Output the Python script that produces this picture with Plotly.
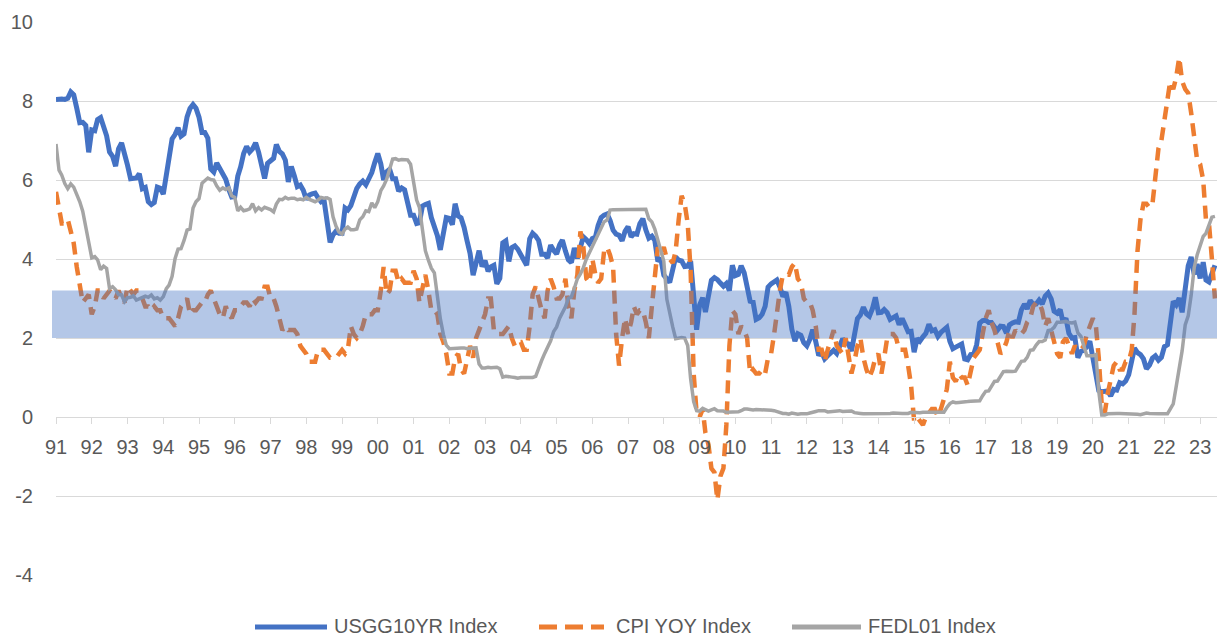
import pandas as pd
import plotly.graph_objects as go

# ---------------- data (monthly, Jan 1991 .. Jun 2023) ----------------
start_month = "1991-01-01"

usgg10yr = [
    8.04, 8.06, 8.05, 8.04, 8.07, 8.23, 8.16, 7.82, 7.45, 7.46, 7.38, 6.70,
    7.27, 7.25, 7.53, 7.58, 7.32, 7.12, 6.71, 6.60, 6.35, 6.79, 6.94, 6.69,
    6.37, 6.03, 6.03, 6.05, 6.16, 5.78, 5.81, 5.45, 5.38, 5.43, 5.82, 5.79,
    5.64, 6.13, 6.74, 7.04, 7.15, 7.32, 7.11, 7.17, 7.60, 7.81, 7.91, 7.82,
    7.59, 7.20, 7.20, 7.06, 6.28, 6.20, 6.43, 6.28, 6.17, 6.02, 5.76, 5.57,
    5.58, 6.10, 6.33, 6.67, 6.85, 6.71, 6.79, 6.94, 6.70, 6.34, 6.04, 6.42,
    6.49, 6.55, 6.90, 6.72, 6.66, 6.50, 5.95, 6.34, 6.10, 5.83, 5.87, 5.74,
    5.51, 5.62, 5.65, 5.67, 5.55, 5.45, 5.49, 4.98, 4.42, 4.61, 4.71, 4.65,
    4.65, 5.29, 5.24, 5.35, 5.62, 5.79, 5.90, 5.97, 5.88, 6.02, 6.19, 6.44,
    6.67, 6.41, 6.00, 6.21, 6.27, 6.03, 6.03, 5.72, 5.80, 5.75, 5.47, 5.11,
    5.11, 4.90, 4.92, 5.34, 5.38, 5.41, 5.05, 4.83, 4.59, 4.23, 4.75, 5.05,
    5.03, 4.87, 5.40, 5.09, 5.04, 4.80, 4.46, 4.14, 3.59, 3.89, 4.21, 3.81,
    3.96, 3.69, 3.80, 3.84, 3.37, 3.51, 4.41, 4.46, 3.94, 4.29, 4.33, 4.25,
    4.13, 3.97, 3.84, 4.51, 4.65, 4.58, 4.47, 4.12, 4.12, 4.03, 4.35, 4.22,
    4.13, 4.36, 4.48, 4.20, 3.98, 3.91, 4.28, 4.02, 4.32, 4.56, 4.49, 4.39,
    4.52, 4.55, 4.85, 5.05, 5.11, 5.14, 4.98, 4.73, 4.63, 4.60, 4.46, 4.70,
    4.82, 4.56, 4.64, 4.63, 4.89, 5.02, 4.74, 4.53, 4.58, 4.47, 3.94, 4.02,
    3.59, 3.51, 3.41, 3.73, 4.05, 3.97, 3.95, 3.81, 3.82, 3.95, 2.92, 2.21,
    2.84, 3.02, 2.66, 3.12, 3.46, 3.53, 3.48, 3.39, 3.31, 3.38, 3.20, 3.84,
    3.58, 3.61, 3.83, 3.65, 3.29, 2.93, 2.91, 2.47, 2.51, 2.60, 2.80, 3.29,
    3.37, 3.42, 3.47, 3.29, 3.05, 3.16, 2.80, 2.22, 1.92, 2.11, 2.07, 1.88,
    1.80, 1.97, 2.21, 1.91, 1.56, 1.64, 1.47, 1.55, 1.63, 1.69, 1.61, 1.76,
    1.98, 1.88, 1.85, 1.67, 2.13, 2.49, 2.58, 2.78, 2.61, 2.55, 2.74, 3.03,
    2.64, 2.65, 2.72, 2.64, 2.47, 2.53, 2.56, 2.34, 2.49, 2.33, 2.16, 2.17,
    1.64, 1.99, 1.92, 2.03, 2.12, 2.35, 2.18, 2.21, 2.04, 2.14, 2.21, 2.27,
    1.92, 1.73, 1.77, 1.83, 1.85, 1.47, 1.45, 1.58, 1.59, 1.83, 2.38, 2.44,
    2.45, 2.39, 2.39, 2.28, 2.20, 2.30, 2.29, 2.12, 2.33, 2.38, 2.41, 2.40,
    2.71, 2.86, 2.74, 2.95, 2.86, 2.86, 2.96, 2.86, 3.06, 3.14, 2.99, 2.68,
    2.63, 2.72, 2.41, 2.50, 2.12, 2.00, 2.01, 1.50, 1.66, 1.69, 1.78, 1.92,
    1.51, 1.15, 0.67, 0.64, 0.65, 0.66, 0.53, 0.70, 0.68, 0.87, 0.84, 0.91,
    1.07, 1.40, 1.74, 1.63, 1.58, 1.47, 1.22, 1.31, 1.49, 1.55, 1.44, 1.51,
    1.78, 1.83, 2.34, 2.93, 2.84, 3.01, 2.65, 3.19, 3.83, 4.05, 3.61, 3.87,
    3.51, 3.92, 3.47, 3.42, 3.64, 3.84,
]

cpi_yoy = [
    5.7, 5.3, 4.9, 4.9, 5.0, 4.7, 4.4, 3.8, 3.4, 2.9, 3.0, 3.1,
    2.6, 2.8, 3.2, 3.2, 3.0, 3.1, 3.2, 3.1, 3.0, 3.2, 3.0, 2.9,
    3.3, 3.2, 3.1, 3.2, 3.2, 3.0, 2.8, 2.8, 2.7, 2.8, 2.7, 2.7,
    2.5, 2.5, 2.5, 2.4, 2.3, 2.5, 2.8, 2.9, 3.0, 2.6, 2.7, 2.7,
    2.8, 2.9, 2.9, 3.1, 3.2, 3.0, 2.8, 2.6, 2.5, 2.8, 2.6, 2.5,
    2.7, 2.7, 2.8, 2.9, 2.9, 2.8, 3.0, 2.9, 3.0, 3.0, 3.3, 3.3,
    3.0, 3.0, 2.8, 2.5, 2.2, 2.3, 2.2, 2.2, 2.2, 2.1, 1.8, 1.7,
    1.6, 1.4, 1.4, 1.4, 1.7, 1.7, 1.7, 1.6, 1.5, 1.5, 1.5, 1.6,
    1.7, 1.6, 1.7, 2.3, 2.1, 2.0, 2.1, 2.3, 2.6, 2.6, 2.6, 2.7,
    2.7, 3.2, 3.8, 3.1, 3.2, 3.7, 3.7, 3.4, 3.5, 3.4, 3.4, 3.4,
    3.7, 3.5, 2.9, 3.3, 3.6, 3.2, 2.7, 2.7, 2.6, 2.1, 1.9, 1.6,
    1.1, 1.1, 1.5, 1.6, 1.2, 1.1, 1.5, 1.8, 1.5, 2.0, 2.2, 2.4,
    2.6, 3.0, 3.0, 2.2, 2.1, 2.1, 2.1, 2.2, 2.3, 2.0, 1.8, 1.9,
    1.9, 1.7, 1.7, 2.3, 3.1, 3.3, 3.0, 2.7, 2.5, 3.2, 3.5, 3.3,
    3.0, 3.0, 3.1, 3.5, 2.8, 2.5, 3.2, 3.6, 4.7, 4.3, 3.5, 3.4,
    4.0, 3.6, 3.4, 3.5, 4.2, 4.3, 4.1, 3.8, 2.1, 1.3, 2.0, 2.5,
    2.1, 2.4, 2.8, 2.6, 2.7, 2.7, 2.4, 2.0, 2.8, 3.5, 4.3, 4.1,
    4.3, 4.0, 4.0, 3.9, 4.2, 5.0, 5.6, 5.4, 4.9, 3.7, 1.1, 0.1,
    0.0, 0.2, -0.4, -0.7, -1.3, -1.4, -2.1, -1.5, -1.3, -0.2, 1.8, 2.7,
    2.6, 2.1, 2.3, 2.2, 2.0, 1.1, 1.2, 1.1, 1.1, 1.2, 1.1, 1.5,
    1.6, 2.1, 2.7, 3.2, 3.6, 3.6, 3.6, 3.8, 3.9, 3.5, 3.4, 3.0,
    2.9, 2.9, 2.7, 2.3, 1.7, 1.7, 1.4, 1.7, 2.0, 2.2, 1.8, 1.7,
    1.6, 2.0, 1.5, 1.1, 1.4, 1.8, 2.0, 1.5, 1.2, 1.0, 1.2, 1.5,
    1.6, 1.1, 1.5, 2.0, 2.1, 2.1, 2.0, 1.7, 1.7, 1.7, 1.3, 0.8,
    -0.1, 0.0, -0.1, -0.2, 0.0, 0.1, 0.2, 0.2, 0.0, 0.2, 0.5, 0.7,
    1.4, 1.0, 0.9, 1.1, 1.0, 1.0, 0.8, 1.1, 1.5, 1.6, 1.7, 2.1,
    2.5, 2.7, 2.4, 2.2, 1.9, 1.6, 1.7, 1.9, 2.2, 2.0, 2.2, 2.1,
    2.1, 2.2, 2.4, 2.5, 2.8, 2.9, 2.9, 2.7, 2.3, 2.5, 2.2, 1.9,
    1.6, 1.5, 1.9, 2.0, 1.8, 1.6, 1.8, 1.7, 1.7, 1.8, 2.1, 2.3,
    2.5, 2.3, 1.5, 0.3, 0.1, 0.6, 1.0, 1.3, 1.4, 1.2, 1.2, 1.4,
    1.4, 1.7, 2.6, 4.2, 5.0, 5.4, 5.4, 5.3, 5.4, 6.2, 6.8, 7.0,
    7.5, 7.9, 8.5, 8.3, 8.6, 9.1, 8.5, 8.3, 8.2, 7.7, 7.1, 6.5,
    6.4, 6.0, 5.0, 4.9, 4.0, 3.0,
]

fedl01 = [
    6.91, 6.25, 6.12, 5.91, 5.78, 5.90, 5.82, 5.66, 5.45, 5.21, 4.81, 4.43,
    4.03, 4.06, 3.98, 3.73, 3.82, 3.76, 3.25, 3.30, 3.22, 3.10, 3.09, 2.92,
    3.02, 3.03, 3.07, 2.96, 3.00, 3.04, 3.06, 3.03, 3.09, 2.99, 3.02, 2.96,
    3.05, 3.25, 3.34, 3.56, 4.01, 4.25, 4.26, 4.47, 4.73, 4.76, 5.29, 5.45,
    5.53, 5.92, 5.98, 6.05, 6.01, 6.00, 5.85, 5.74, 5.80, 5.76, 5.80, 5.60,
    5.56, 5.22, 5.31, 5.22, 5.24, 5.27, 5.40, 5.22, 5.30, 5.24, 5.31, 5.29,
    5.25, 5.19, 5.39, 5.51, 5.50, 5.56, 5.52, 5.54, 5.54, 5.50, 5.52, 5.50,
    5.56, 5.51, 5.49, 5.45, 5.49, 5.56, 5.54, 5.55, 5.51, 5.07, 4.83, 4.68,
    4.63, 4.76, 4.81, 4.74, 4.74, 4.76, 4.99, 5.07, 5.22, 5.20, 5.42, 5.30,
    5.45, 5.73, 5.85, 6.02, 6.27, 6.53, 6.54, 6.50, 6.52, 6.51, 6.51, 6.40,
    5.98, 5.49, 5.31, 4.80, 4.21, 3.97, 3.77, 3.65, 3.07, 2.49, 2.09, 1.82,
    1.73, 1.74, 1.73, 1.75, 1.75, 1.75, 1.73, 1.74, 1.75, 1.75, 1.34, 1.24,
    1.24, 1.26, 1.25, 1.26, 1.26, 1.22, 1.01, 1.03, 1.01, 1.01, 1.00, 0.98,
    1.00, 1.01, 1.00, 1.00, 1.00, 1.03, 1.26, 1.43, 1.61, 1.76, 1.93, 2.16,
    2.28, 2.50, 2.63, 2.79, 3.00, 3.04, 3.26, 3.50, 3.62, 3.78, 4.00, 4.16,
    4.29, 4.49, 4.59, 4.79, 4.94, 4.99, 5.24, 5.25, 5.25, 5.25, 5.25, 5.24,
    5.25, 5.26, 5.26, 5.25, 5.25, 5.25, 5.26, 5.02, 4.94, 4.76, 4.49, 4.24,
    3.94, 2.98, 2.61, 2.28, 1.98, 2.00, 2.01, 2.00, 1.81, 0.97, 0.39, 0.16,
    0.15, 0.22, 0.18, 0.15, 0.18, 0.21, 0.16, 0.16, 0.15, 0.12, 0.12, 0.12,
    0.11, 0.13, 0.16, 0.20, 0.20, 0.18, 0.18, 0.19, 0.19, 0.19, 0.19, 0.18,
    0.17, 0.16, 0.14, 0.10, 0.09, 0.09, 0.07, 0.10, 0.08, 0.07, 0.08, 0.07,
    0.08, 0.10, 0.13, 0.14, 0.16, 0.16, 0.16, 0.13, 0.14, 0.16, 0.16, 0.16,
    0.14, 0.15, 0.14, 0.15, 0.11, 0.09, 0.09, 0.08, 0.08, 0.09, 0.08, 0.09,
    0.07, 0.07, 0.08, 0.09, 0.09, 0.10, 0.09, 0.09, 0.09, 0.09, 0.09, 0.12,
    0.11, 0.11, 0.11, 0.12, 0.12, 0.13, 0.13, 0.14, 0.14, 0.12, 0.12, 0.24,
    0.34, 0.38, 0.36, 0.37, 0.37, 0.38, 0.39, 0.40, 0.40, 0.40, 0.41, 0.54,
    0.65, 0.66, 0.79, 0.90, 0.91, 1.04, 1.15, 1.16, 1.15, 1.15, 1.16, 1.30,
    1.41, 1.42, 1.51, 1.69, 1.70, 1.82, 1.91, 1.91, 1.95, 2.19, 2.20, 2.27,
    2.40, 2.40, 2.41, 2.42, 2.39, 2.38, 2.40, 2.13, 2.04, 1.83, 1.55, 1.55,
    1.55, 1.58, 0.65, 0.05, 0.05, 0.08, 0.09, 0.10, 0.09, 0.09, 0.09, 0.09,
    0.09, 0.08, 0.07, 0.07, 0.06, 0.08, 0.10, 0.09, 0.08, 0.08, 0.08, 0.08,
    0.08, 0.08, 0.20, 0.33, 0.77, 1.21, 1.68, 2.33, 2.56, 3.08, 3.78, 4.10,
    4.33, 4.57, 4.65, 4.83, 5.06, 5.08,
]

series_names = ["USGG10YR Index", "CPI YOY Index", "FEDL01 Index"]
band_low, band_high = 2.0, 3.2
y_ticks = [-4, -2, 0, 2, 4, 6, 8, 10]
y_tick_labels = [str(v) for v in y_ticks]
x_years = list(range(1991, 2024))
x_tick_labels = [f"{y % 100:02d}" for y in x_years]

# ---------------- figure ----------------
dates = pd.date_range(start_month, periods=len(usgg10yr), freq="MS")

BLUE = "#4472C4"
ORANGE = "#ED7D31"
GRAY = "#A5A5A5"
TXT = "#595959"
GRID = "#D9D9D9"
FONT = "Liberation Sans, Arial, sans-serif"

fig = go.Figure()
fig.add_trace(go.Scatter(x=dates, y=usgg10yr, mode="lines", name=series_names[0],
                         line=dict(color=BLUE, width=5), showlegend=False))
fig.add_trace(go.Scatter(x=dates, y=cpi_yoy, mode="lines", name=series_names[1],
                         line=dict(color=ORANGE, width=4.5, dash="13px,8px"), showlegend=False))
fig.add_trace(go.Scatter(x=dates, y=fedl01, mode="lines", name=series_names[2],
                         line=dict(color=GRAY, width=3.5), showlegend=False))

W, H = 1217, 636
ml, mr, mt, mb = 56, 0, 22, 61
pw, ph = W - ml - mr, H - mt - mb
ymin, ymax = -4, 10

# target band
fig.add_shape(type="rect", xref="paper", yref="y", x0=-4 / pw, x1=1, y0=band_low, y1=band_high,
              fillcolor="rgba(68,114,196,0.4)", line=dict(width=0), layer="above")

# custom legend (pixel positions in window coordinates)
def px_x(px):
    return (px - ml) / pw

def px_y(py):
    return (H - mb - py) / ph

leg_line_y = px_y(627)
leg_text_y = px_y(625.5)
legend_items = [
    (series_names[0], BLUE, "solid", 5, 255, 327, 332),
    (series_names[1], ORANGE, "18px,8px", 5, 539, 604, 614),
    (series_names[2], GRAY, "solid", 5, 792, 861, 866),
]
for name, col, dash, w, x0, x1, tx in legend_items:
    fig.add_shape(type="line", xref="paper", yref="paper", x0=px_x(x0), x1=px_x(x1),
                  y0=leg_line_y, y1=leg_line_y, line=dict(color=col, width=w, dash=dash))
    fig.add_annotation(xref="paper", yref="paper", x=px_x(tx), y=leg_text_y, text=name,
                       showarrow=False, xanchor="left", yanchor="middle",
                       font=dict(family=FONT, size=20, color=TXT))

fig.update_layout(
    width=W, height=H,
    margin=dict(l=ml, r=mr, t=mt, b=mb),
    paper_bgcolor="white", plot_bgcolor="white",
    font=dict(family=FONT, size=20, color=TXT),
    showlegend=False,
    xaxis=dict(
        type="date",
        range=["1991-01-01", "2023-06-22"],
        tickmode="array",
        tickvals=[f"{y}-01-01" for y in x_years],
        ticktext=x_tick_labels,
        showgrid=False, zeroline=False,
        showline=True, linecolor=GRID, linewidth=1,
        ticks="outside", ticklen=6, tickcolor=GRID, tickwidth=1,
        anchor="free", position=(0 - ymin) / (ymax - ymin),
        ticklabelstandoff=6,
        tickfont=dict(family=FONT, size=20, color=TXT),
    ),
    yaxis=dict(
        range=[ymin, ymax],
        tickmode="array",
        tickvals=y_ticks,
        ticktext=y_tick_labels,
        showgrid=True, gridcolor=GRID, gridwidth=1,
        zeroline=False, showline=False,
        ticklabelstandoff=22,
        tickfont=dict(family=FONT, size=20, color=TXT),
    ),
)

# remove the default page margin so the figure fills the 1217x636 window
fig.write_html("out.html",
               config={"displayModeBar": False},
               post_script="document.body.style.margin='0px';document.body.style.overflow='hidden';")
